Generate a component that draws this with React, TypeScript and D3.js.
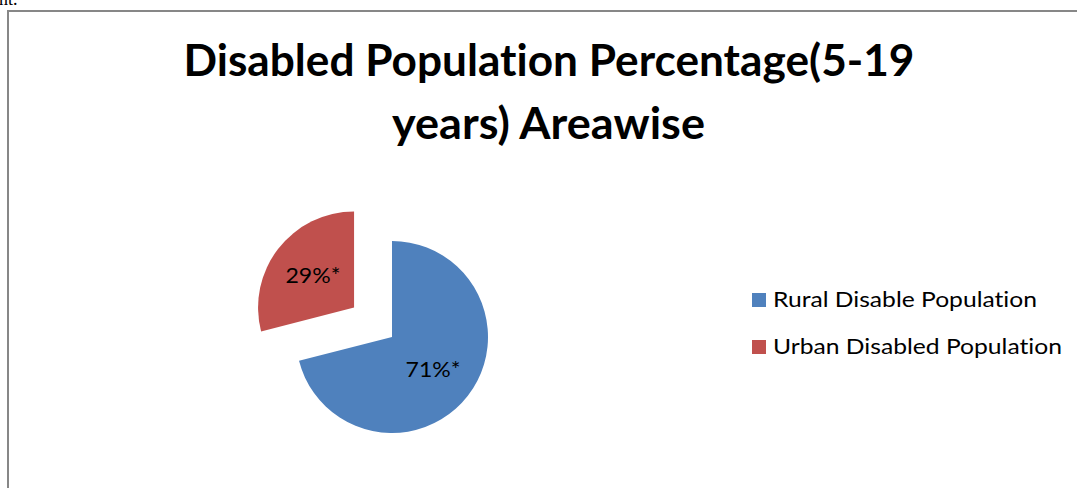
import React from "react";
import * as d3 from "d3";

const categories = ["Rural Disable Population", "Urban Disabled Population"];
const values = [71, 29];
const labels = ["71%*", "29%*"];
const colors = ["#4F81BD", "#C0504D"];
const titleLines = ["Disabled Population Percentage(5-19", "years) Areawise"];
const exploded = [false, true];
const legendWidths = [264, 289];

const W = 1077;
const H = 488;

export default function App() {
  const cx = 392;
  const cy = 337;
  const r = 96;
  const explode = 48;
  const labelR = 52;

  const pie = d3
    .pie<number>()
    .sort(null)
    .value((d) => d)
    .startAngle(0)
    .endAngle(2 * Math.PI);
  const arcs = pie(values);
  const arcGen = d3.arc<d3.PieArcDatum<number>>().innerRadius(0).outerRadius(r);
  const labelArc = d3
    .arc<d3.PieArcDatum<number>>()
    .innerRadius(labelR)
    .outerRadius(labelR);

  const font = "Lato, 'Open Sans', sans-serif";
  const noLig = { fontVariantLigatures: "none" as const, fontFeatureSettings: "'liga' 0, 'clig' 0" };

  return (
    <svg
      width={W}
      height={H}
      style={{ position: "absolute", left: 0, top: 0, background: "#fff" }}
    >
      <text
        x={-1}
        y={5}
        fontFamily="'Liberation Serif', 'Times New Roman', serif"
        fontSize={18}
        fill="#000"
      >
        nt.
      </text>
      <rect
        x={8}
        y={11}
        width={1200}
        height={700}
        fill="#fff"
        stroke="#878787"
        strokeWidth={2}
      />
      <g fontFamily={font} fontWeight={700} fontSize={43} fill="#000" style={noLig}>
        <text x={549} y={76} textAnchor="middle" textLength={731} lengthAdjust="spacingAndGlyphs">
          {titleLines[0]}
        </text>
        <text x={548.5} y={139} textAnchor="middle" textLength={313} lengthAdjust="spacingAndGlyphs">
          {titleLines[1]}
        </text>
      </g>
      <g>
        {arcs.map((a, i) => {
          const mid = (a.startAngle + a.endAngle) / 2;
          const off = exploded[i] ? explode : 0;
          const dx = Math.sin(mid) * off;
          const dy = -Math.cos(mid) * off;
          const [lx, ly] = labelArc.centroid(a);
          return (
            <g key={i} transform={`translate(${cx + dx},${cy + dy})`}>
              <path d={arcGen(a) || ""} fill={colors[i]} />
              <text
                x={lx}
                y={ly}
                dy="0.36em"
                textAnchor="middle"
                fontFamily={font}
                fontSize={21.5}
                fill="#000"
                textLength={55}
                lengthAdjust="spacingAndGlyphs"
              >
                {labels[i]}
              </text>
            </g>
          );
        })}
      </g>
      <g fontFamily={font} fontSize={21.5} fill="#000" style={noLig}>
        {categories.map((c, i) => (
          <g key={c}>
            <rect x={752} y={293 + i * 47} width={14} height={14} fill={colors[i]} />
            <text
              x={773}
              y={307 + i * 46.5}
              textLength={legendWidths[i]}
              lengthAdjust="spacingAndGlyphs"
            >
              {c}
            </text>
          </g>
        ))}
      </g>
    </svg>
  );
}
